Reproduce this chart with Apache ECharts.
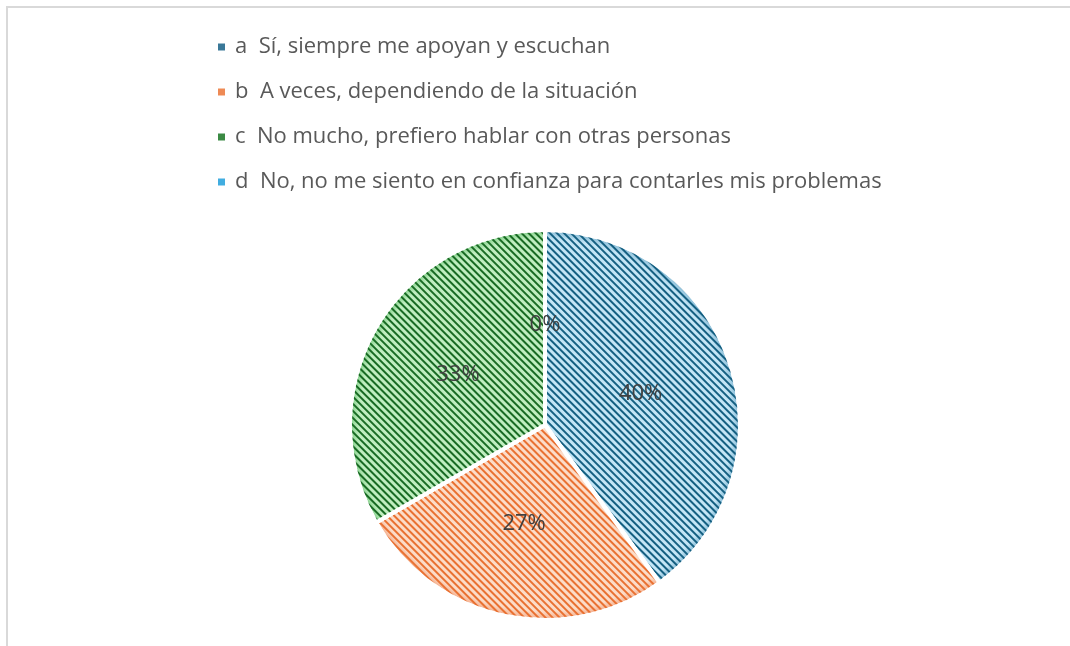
<!DOCTYPE html>
<html>
<head>
<meta charset="utf-8">
<script src="https://cdn.jsdelivr.net/npm/echarts@6/dist/echarts.min.js"></script>
<style>
  html, body { margin: 0; padding: 0; background: #fff; }
  #frame {
    position: absolute; left: 6px; top: 6px; right: 0; bottom: 0;
    border-top: 2px solid #d9d9d9; border-left: 2px solid #d9d9d9;
  }
  #chart { position: absolute; left: 0; top: 0; width: 1070px; height: 646px; }
</style>
</head>
<body>
<div id="frame"></div>
<div id="chart"></div>
<script>
// respuestas
const categories = [
  'a  Sí, siempre me apoyan y escuchan',
  'b  A veces, dependiendo de la situación',
  'c  No mucho, prefiero hablar con otras personas',
  'd  No, no me siento en confianza para contarles mis problemas'
]
const counts = [6, 4, 5, 0]

// fondo claro + rayas del color de la serie
const fillColors = ['#c4e6f6', '#fcdcc8', '#c0eec0', '#bfe6f7']
const edgeColors = ['#7fb6d2', '#f3a985', '#7fcf86', '#7fc6e6']
const stripeColors = ['#156082', '#e97132', '#196b24', '#0f9ed5']
const legendColors = ['#3a7898', '#ee8a55', '#3b8a44', '#41ade0']

const cx = 545
const cy = 425
const r = 195

const chart = echarts.init(document.getElementById('chart'))

const seriesData = categories.map(function(name, i) {
  return {
    name: name,
    value: counts[i],
    itemStyle: {
      color: {
        type: 'radial', x: cx, y: cy, r: r, global: true,
        colorStops: [
          { offset: 0, color: fillColors[i] },
          { offset: 0.955, color: fillColors[i] },
          { offset: 1, color: edgeColors[i] }
        ]
      },
      decal: {
        symbol: 'rect',
        symbolSize: 1,
        color: stripeColors[i],
        dashArrayX: [1, 0],
        dashArrayY: [1.2, 2.8],
        rotation: Math.PI / 4
      }
    }
  }
})

chart.setOption({
  animation: false,
  aria: { enabled: false },
  legend: {
    orient: 'vertical',
    left: 211,
    top: 31,
    icon: 'rect',
    itemWidth: 9,
    itemHeight: 9,
    itemGap: 23,
    textStyle: {
      fontFamily: 'Open Sans',
      fontSize: 22,
      color: '#595959',
      padding: [0, 0, 0, 4]
    },
    data: categories.map(function(name, i) {
      return { name: name, itemStyle: { color: legendColors[i], decal: 'none' }}
    })
  },
  series: [{
    type: 'pie',
    center: [cx, cy],
    radius: r,
    startAngle: 90,
    clockwise: true,
    minShowLabelAngle: 0,
    label: {
      show: true,
      position: 'inside',
      fontFamily: 'Open Sans',
      fontSize: 22,
      color: '#404040',
      formatter: function(p) {
        return Math.round(p.percent) + '%'
      }
    },
    labelLine: { show: false },
    itemStyle: { borderColor: '#fff', borderWidth: 4 },
    emphasis: { disabled: true },
    data: seriesData
  }]
})
</script>
</body>
</html>
